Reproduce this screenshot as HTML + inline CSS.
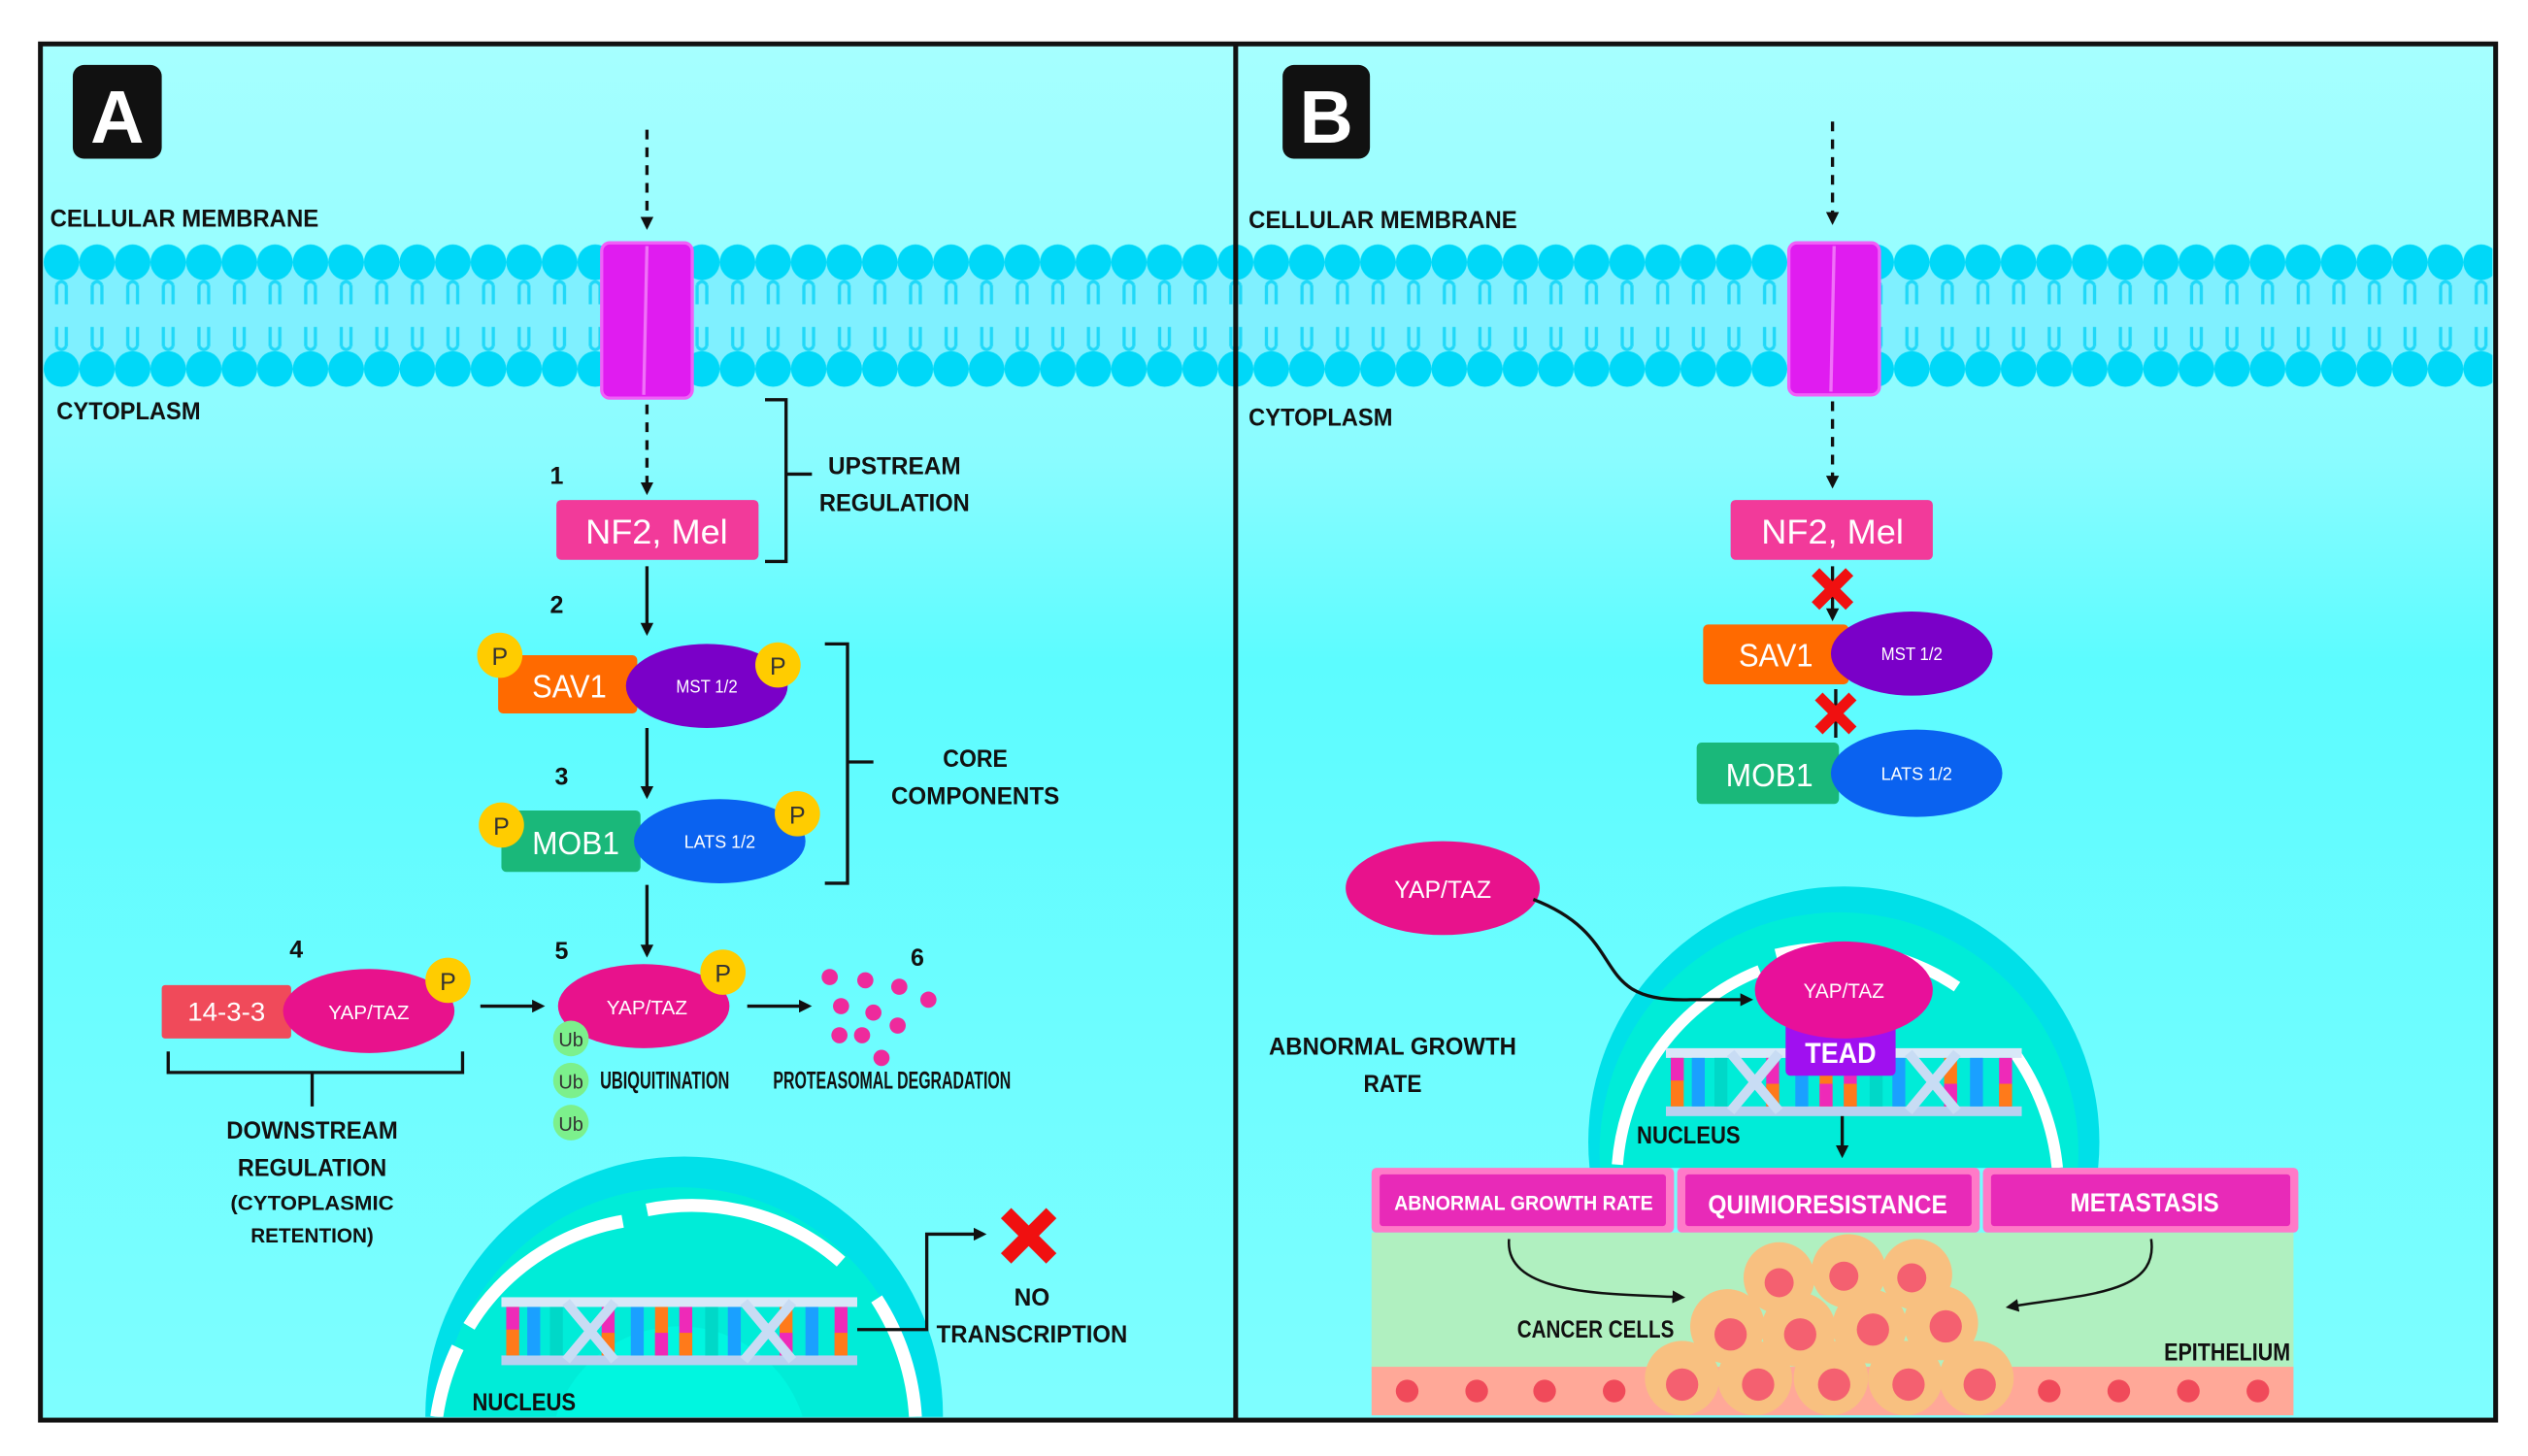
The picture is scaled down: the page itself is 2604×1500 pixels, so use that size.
<!DOCTYPE html>
<html><head><meta charset="utf-8"><style>
html,body{margin:0;padding:0;background:#fff;width:2604px;height:1500px;overflow:hidden;}
svg{display:block;}
text{font-family:"Liberation Sans Narrow","Liberation Sans",sans-serif;}
.lb{font-weight:bold;fill:#111;font-size:15px;}
.w{fill:#fff;font-family:"Liberation Sans",sans-serif;}
</style></head><body>
<svg width="2604" height="1500" viewBox="0 0 1563 900" xmlns="http://www.w3.org/2000/svg">
<defs>
<linearGradient id="bg" x1="0" y1="0" x2="0" y2="1">
<stop offset="0" stop-color="#a6ffff"/><stop offset="0.3" stop-color="#8afcff"/><stop offset="0.45" stop-color="#5cfcff"/><stop offset="1" stop-color="#7ffeff"/>
</linearGradient>
<pattern id="mem" x="27" y="150" width="22" height="92" patternUnits="userSpaceOnUse">
<rect x="0" y="12" width="22" height="66" fill="#7ff0ff"/>
<circle cx="11" cy="12" r="11" fill="#00d8f8"/>
<circle cx="11" cy="78" r="11" fill="#00d8f8"/>
<path d="M8 26 v12 M14 26 v12 M8 26 q3 -4 6 0 M8 52 v12 M14 52 v12 M8 64 q3 4 6 0" stroke="#20d8f8" stroke-width="2" fill="none"/>
</pattern>
<marker id="ah" markerWidth="8" markerHeight="8" refX="6" refY="4" orient="auto" markerUnits="userSpaceOnUse"><path d="M0 0 L8 4 L0 8 z" fill="#111"/></marker>
<g id="dna">
<rect x="0" y="0" width="220" height="6" fill="#d8e8f8"/><rect x="0" y="36" width="220" height="6" fill="#b8d0f0"/>
<rect x="3" y="6" width="8" height="30" fill="#ff7a1a"/><rect x="3" y="6" width="8" height="14" fill="#ee2ab8"/>
<rect x="16" y="6" width="8" height="30" fill="#1aa0ff"/><rect x="30" y="6" width="8" height="30" fill="#00d8c8"/>
<rect x="62" y="6" width="8" height="30" fill="#ee2ab8"/><rect x="62" y="22" width="8" height="14" fill="#ff7a1a"/>
<rect x="80" y="6" width="8" height="30" fill="#1aa0ff"/><rect x="95" y="6" width="8" height="30" fill="#ff7a1a"/><rect x="95" y="22" width="8" height="14" fill="#ee2ab8"/>
<rect x="110" y="6" width="8" height="30" fill="#ee2ab8"/><rect x="110" y="22" width="8" height="14" fill="#ff7a1a"/>
<rect x="126" y="6" width="8" height="30" fill="#00d8c8"/><rect x="140" y="6" width="8" height="30" fill="#1aa0ff"/>
<rect x="172" y="6" width="8" height="30" fill="#ff7a1a"/><rect x="172" y="22" width="8" height="14" fill="#ee2ab8"/>
<rect x="188" y="6" width="8" height="30" fill="#1aa0ff"/><rect x="206" y="6" width="8" height="30" fill="#ee2ab8"/><rect x="206" y="22" width="8" height="14" fill="#ff7a1a"/>
<path d="M40 3 L70 39 M40 39 L70 3 M150 3 L180 39 M150 39 L180 3" stroke="#c8dcf4" stroke-width="6"/>
</g>
<g id="xr"><path d="M-14 -14 L14 14 M14 -14 L-14 14" stroke="#f01010" stroke-width="9"/></g>
<clipPath id="cpA"><rect x="27" y="29" width="736" height="847"/></clipPath>
<clipPath id="cpB"><rect x="766" y="29" width="775" height="693"/></clipPath>
</defs>
<rect x="25" y="27" width="1518" height="851" fill="url(#bg)" stroke="#111" stroke-width="3"/>
<rect x="27" y="150" width="1514" height="92" fill="url(#mem)"/>
<line x1="764" y1="27" x2="764" y2="878" stroke="#111" stroke-width="3"/>

<!-- Panel A -->
<rect x="45" y="40" width="55" height="58" rx="7" fill="#111"/>
<text x="72.5" y="88" text-anchor="middle" font-size="46" font-weight="bold" fill="#fff">A</text>
<text x="31" y="140" class="lb" textLength="166" lengthAdjust="spacingAndGlyphs">CELLULAR MEMBRANE</text>
<text x="35" y="259" class="lb" textLength="89" lengthAdjust="spacingAndGlyphs">CYTOPLASM</text>
<rect x="372" y="150" width="56" height="96" rx="5" fill="#e01cf0" stroke="#f060f8" stroke-width="2"/>
<line x1="400" y1="152" x2="398" y2="244" stroke="#f070f8" stroke-width="2"/>
<line x1="400" y1="80" x2="400" y2="140" stroke="#111" stroke-width="2" stroke-dasharray="6,5" marker-end="url(#ah)"/>
<line x1="400" y1="250" x2="400" y2="304" stroke="#111" stroke-width="2" stroke-dasharray="6,5" marker-end="url(#ah)"/>
<text x="340" y="299" class="lb" font-size="18">1</text>
<rect x="344" y="309" width="125" height="37" rx="3" fill="#f23a9a"/>
<text x="406" y="336" text-anchor="middle" class="w" font-size="21" textLength="88" lengthAdjust="spacingAndGlyphs">NF2, Mel</text>
<path d="M473 247 H486 V347 H473 M486 293 H502" stroke="#111" stroke-width="2" fill="none"/>
<text x="553" y="293" text-anchor="middle" class="lb" textLength="82" lengthAdjust="spacingAndGlyphs">UPSTREAM</text>
<text x="553" y="316" text-anchor="middle" class="lb" textLength="93" lengthAdjust="spacingAndGlyphs">REGULATION</text>
<line x1="400" y1="350" x2="400" y2="391" stroke="#111" stroke-width="2" marker-end="url(#ah)"/>
<text x="340" y="379" class="lb" font-size="18">2</text>
<rect x="308" y="405" width="86" height="36" rx="3" fill="#ff6a00"/>
<text x="352" y="431" text-anchor="middle" class="w" font-size="20" textLength="46" lengthAdjust="spacingAndGlyphs">SAV1</text>
<ellipse cx="437" cy="424" rx="50" ry="26" fill="#7a00c8"/>
<text x="437" y="428" text-anchor="middle" class="w" font-size="11" textLength="38" lengthAdjust="spacingAndGlyphs">MST 1/2</text>
<circle cx="309" cy="405" r="14" fill="#ffcc00"/><text x="309" y="411" text-anchor="middle" font-size="15" fill="#333">P</text>
<circle cx="481" cy="411" r="14" fill="#ffcc00"/><text x="481" y="417" text-anchor="middle" font-size="15" fill="#333">P</text>
<line x1="400" y1="450" x2="400" y2="492" stroke="#111" stroke-width="2" marker-end="url(#ah)"/>
<text x="343" y="485" class="lb" font-size="18">3</text>
<rect x="310" y="501" width="86" height="38" rx="3" fill="#1ab87a"/>
<text x="356" y="528" text-anchor="middle" class="w" font-size="20" textLength="54" lengthAdjust="spacingAndGlyphs">MOB1</text>
<ellipse cx="445" cy="520" rx="53" ry="26" fill="#0a62f0"/>
<text x="445" y="524" text-anchor="middle" class="w" font-size="11" textLength="44" lengthAdjust="spacingAndGlyphs">LATS 1/2</text>
<circle cx="310" cy="510" r="14" fill="#ffcc00"/><text x="310" y="516" text-anchor="middle" font-size="15" fill="#333">P</text>
<circle cx="493" cy="503" r="14" fill="#ffcc00"/><text x="493" y="509" text-anchor="middle" font-size="15" fill="#333">P</text>
<path d="M510 398 H524 V546 H510 M524 471 H540" stroke="#111" stroke-width="2" fill="none"/>
<text x="603" y="474" text-anchor="middle" class="lb" textLength="40" lengthAdjust="spacingAndGlyphs">CORE</text>
<text x="603" y="497" text-anchor="middle" class="lb" textLength="104" lengthAdjust="spacingAndGlyphs">COMPONENTS</text>
<line x1="400" y1="547" x2="400" y2="590" stroke="#111" stroke-width="2" marker-end="url(#ah)"/>
<text x="179" y="592" class="lb" font-size="18">4</text>
<text x="343" y="593" class="lb" font-size="18">5</text>
<text x="563" y="597" class="lb" font-size="18">6</text>
<rect x="100" y="609" width="80" height="33" rx="2" fill="#f04a5a"/>
<text x="140" y="631" text-anchor="middle" class="w" font-size="16" textLength="48" lengthAdjust="spacingAndGlyphs">14-3-3</text>
<ellipse cx="228" cy="625" rx="53" ry="26" fill="#e8128c"/>
<text x="228" y="630" text-anchor="middle" class="w" font-size="12" textLength="50" lengthAdjust="spacingAndGlyphs">YAP/TAZ</text>
<circle cx="277" cy="606" r="14" fill="#ffcc00"/><text x="277" y="612" text-anchor="middle" font-size="15" fill="#333">P</text>
<line x1="297" y1="622" x2="335" y2="622" stroke="#111" stroke-width="2" marker-end="url(#ah)"/>
<ellipse cx="398" cy="622" rx="53" ry="26" fill="#e8128c"/>
<text x="400" y="627" text-anchor="middle" class="w" font-size="12" textLength="50" lengthAdjust="spacingAndGlyphs">YAP/TAZ</text>
<circle cx="447" cy="601" r="14" fill="#ffcc00"/><text x="447" y="607" text-anchor="middle" font-size="15" fill="#333">P</text>
<circle cx="353" cy="642" r="11" fill="#7cf08c"/><text x="353" y="647" text-anchor="middle" font-size="12" fill="#333">Ub</text>
<circle cx="353" cy="668" r="11" fill="#7cf08c"/><text x="353" y="673" text-anchor="middle" font-size="12" fill="#333">Ub</text>
<circle cx="353" cy="694" r="11" fill="#7cf08c"/><text x="353" y="699" text-anchor="middle" font-size="12" fill="#333">Ub</text>
<text x="371" y="673" class="lb" font-size="10" textLength="80" lengthAdjust="spacingAndGlyphs">UBIQUITINATION</text>
<line x1="462" y1="622" x2="500" y2="622" stroke="#111" stroke-width="2" marker-end="url(#ah)"/>
<g fill="#ee2a9c"><circle cx="513" cy="604" r="5"/><circle cx="535" cy="606" r="5"/><circle cx="556" cy="610" r="5"/><circle cx="574" cy="618" r="5"/><circle cx="520" cy="622" r="5"/><circle cx="540" cy="626" r="5"/><circle cx="519" cy="640" r="5"/><circle cx="555" cy="634" r="5"/><circle cx="533" cy="640" r="5"/><circle cx="545" cy="654" r="5"/></g>
<text x="478" y="673" class="lb" font-size="10" textLength="147" lengthAdjust="spacingAndGlyphs">PROTEASOMAL DEGRADATION</text>
<path d="M104 650 V663 H286 V650 M193 663 V684" stroke="#111" stroke-width="2" fill="none"/>
<g class="lb" text-anchor="middle"><text x="193" y="704" textLength="106" lengthAdjust="spacingAndGlyphs">DOWNSTREAM</text><text x="193" y="727" textLength="92" lengthAdjust="spacingAndGlyphs">REGULATION</text><text x="193" y="748" font-size="13" textLength="101" lengthAdjust="spacingAndGlyphs">(CYTOPLASMIC</text><text x="193" y="768" font-size="13" textLength="76" lengthAdjust="spacingAndGlyphs">RETENTION)</text></g>
<g clip-path="url(#cpA)">
<circle cx="423" cy="875" r="160" fill="#00e0e8"/>
<circle cx="420" cy="882" r="148" fill="#00ecd8"/>
<circle cx="420" cy="900" r="80" fill="#00f6e0"/>
<path d="M290 820 A140 140 0 0 1 385 755" stroke="#fff" stroke-width="8" fill="none"/>
<path d="M400 748 A140 140 0 0 1 520 780" stroke="#fff" stroke-width="8" fill="none"/>
<path d="M542 803 A150 150 0 0 1 566 876" stroke="#fff" stroke-width="8" fill="none"/>
<path d="M270 876 A150 150 0 0 1 283 833" stroke="#fff" stroke-width="8" fill="none"/>
<use href="#dna" x="310" y="802"/>
</g>
<path d="M530 822 H573 V763 H608" stroke="#111" stroke-width="2" fill="none" marker-end="url(#ah)"/>
<use href="#xr" x="636" y="764"/>
<text x="638" y="807" text-anchor="middle" class="lb" textLength="22" lengthAdjust="spacingAndGlyphs">NO</text>
<text x="638" y="830" text-anchor="middle" class="lb" textLength="118" lengthAdjust="spacingAndGlyphs">TRANSCRIPTION</text>
<text x="292" y="872" class="lb" font-size="14" textLength="64" lengthAdjust="spacingAndGlyphs">NUCLEUS</text>

<!-- Panel B -->
<rect x="793" y="40" width="54" height="58" rx="7" fill="#111"/>
<text x="820" y="88" text-anchor="middle" font-size="46" font-weight="bold" fill="#fff">B</text>
<text x="772" y="141" class="lb" textLength="166" lengthAdjust="spacingAndGlyphs">CELLULAR MEMBRANE</text>
<text x="772" y="263" class="lb" textLength="89" lengthAdjust="spacingAndGlyphs">CYTOPLASM</text>
<rect x="1106" y="150" width="56" height="94" rx="5" fill="#e01cf0" stroke="#f060f8" stroke-width="2"/>
<line x1="1134" y1="152" x2="1132" y2="242" stroke="#f070f8" stroke-width="2"/>
<line x1="1133" y1="75" x2="1133" y2="137" stroke="#111" stroke-width="2" stroke-dasharray="6,5" marker-end="url(#ah)"/>
<line x1="1133" y1="248" x2="1133" y2="300" stroke="#111" stroke-width="2" stroke-dasharray="6,5" marker-end="url(#ah)"/>
<rect x="1070" y="309" width="125" height="37" rx="3" fill="#f23a9a"/>
<text x="1133" y="336" text-anchor="middle" class="w" font-size="21" textLength="88" lengthAdjust="spacingAndGlyphs">NF2, Mel</text>
<line x1="1133" y1="350" x2="1133" y2="382" stroke="#111" stroke-width="2" marker-end="url(#ah)"/>
<g transform="translate(1133 364) scale(0.75)"><use href="#xr"/></g>
<rect x="1053" y="386" width="90" height="37" rx="3" fill="#ff6a00"/>
<text x="1098" y="412" text-anchor="middle" class="w" font-size="20" textLength="46" lengthAdjust="spacingAndGlyphs">SAV1</text>
<ellipse cx="1182" cy="404" rx="50" ry="26" fill="#7a00c8"/>
<text x="1182" y="408" text-anchor="middle" class="w" font-size="11" textLength="38" lengthAdjust="spacingAndGlyphs">MST 1/2</text>
<line x1="1135" y1="426" x2="1135" y2="456" stroke="#111" stroke-width="2"/>
<g transform="translate(1135 441) scale(0.75)"><use href="#xr"/></g>
<rect x="1049" y="459" width="88" height="38" rx="3" fill="#1ab87a"/>
<text x="1094" y="486" text-anchor="middle" class="w" font-size="20" textLength="54" lengthAdjust="spacingAndGlyphs">MOB1</text>
<ellipse cx="1185" cy="478" rx="53" ry="27" fill="#0a62f0"/>
<text x="1185" y="482" text-anchor="middle" class="w" font-size="11" textLength="44" lengthAdjust="spacingAndGlyphs">LATS 1/2</text>
<g clip-path="url(#cpB)">
<circle cx="1140" cy="706" r="158" fill="#00e0e8"/>
<circle cx="1137" cy="712" r="148" fill="#00ecd8"/>
<path d="M1000 720 A140 140 0 0 1 1088 600" stroke="#fff" stroke-width="7" fill="none"/>
<path d="M1098 590 A140 140 0 0 1 1210 610" stroke="#fff" stroke-width="7" fill="none"/>
<path d="M1245 650 A150 150 0 0 1 1272 722" stroke="#fff" stroke-width="7" fill="none"/>
<use href="#dna" x="1030" y="648"/>
</g>
<ellipse cx="892" cy="549" rx="60" ry="29" fill="#e8128c"/>
<text x="892" y="555" text-anchor="middle" class="w" font-size="15" textLength="60" lengthAdjust="spacingAndGlyphs">YAP/TAZ</text>
<path d="M948 556 C1010 580 980 620 1045 618 L1082 618" stroke="#111" stroke-width="2" fill="none" marker-end="url(#ah)"/>
<rect x="1104" y="632" width="68" height="33" rx="3" fill="#a010f0"/>
<text x="1138" y="657" text-anchor="middle" class="w" font-size="18" font-weight="bold" textLength="44" lengthAdjust="spacingAndGlyphs">TEAD</text>
<ellipse cx="1140" cy="612" rx="55" ry="30" fill="#e8109a"/>
<text x="1140" y="617" text-anchor="middle" class="w" font-size="13" textLength="50" lengthAdjust="spacingAndGlyphs">YAP/TAZ</text>
<text x="1012" y="707" class="lb" font-size="14" textLength="64" lengthAdjust="spacingAndGlyphs">NUCLEUS</text>
<line x1="1139" y1="690" x2="1139" y2="714" stroke="#111" stroke-width="2" marker-end="url(#ah)"/>
<text x="861" y="652" text-anchor="middle" class="lb" textLength="153" lengthAdjust="spacingAndGlyphs">ABNORMAL GROWTH</text>
<text x="861" y="675" text-anchor="middle" class="lb" textLength="36" lengthAdjust="spacingAndGlyphs">RATE</text>
<rect x="848" y="762" width="570" height="84" fill="#b0f0c0"/>
<rect x="848" y="845" width="570" height="30" fill="#ffa898"/>
<g fill="#f04a5a"><circle cx="870" cy="860" r="7"/><circle cx="913" cy="860" r="7"/><circle cx="955" cy="860" r="7"/><circle cx="998" cy="860" r="7"/><circle cx="1267" cy="860" r="7"/><circle cx="1310" cy="860" r="7"/><circle cx="1353" cy="860" r="7"/><circle cx="1396" cy="860" r="7"/></g>
<g clip-path="url(#cpC)">
<g fill="#f8c080">
<circle cx="1100" cy="790" r="22"/><circle cx="1143" cy="786" r="23"/><circle cx="1185" cy="788" r="22"/>
<circle cx="1068" cy="820" r="23"/><circle cx="1112" cy="822" r="23"/><circle cx="1156" cy="820" r="23"/><circle cx="1200" cy="818" r="23"/>
<circle cx="1040" cy="852" r="23"/><circle cx="1085" cy="852" r="23"/><circle cx="1132" cy="852" r="23"/><circle cx="1178" cy="852" r="23"/><circle cx="1222" cy="852" r="23"/>
</g>
</g>
<clipPath id="cpC"><rect x="848" y="762" width="570" height="113"/></clipPath>
<g fill="#f46070">
<circle cx="1100" cy="793" r="9"/><circle cx="1140" cy="789" r="9"/><circle cx="1182" cy="790" r="9"/>
<circle cx="1070" cy="825" r="10"/><circle cx="1113" cy="825" r="10"/><circle cx="1158" cy="822" r="10"/><circle cx="1203" cy="820" r="10"/>
<circle cx="1040" cy="856" r="10"/><circle cx="1087" cy="856" r="10"/><circle cx="1134" cy="856" r="10"/><circle cx="1180" cy="856" r="10"/><circle cx="1224" cy="856" r="10"/>
</g>
<rect x="848" y="722" width="187" height="40" rx="3" fill="#ff7ac8"/><rect x="853" y="726" width="177" height="32" rx="2" fill="#e82ab8"/>
<rect x="1037" y="722" width="187" height="40" rx="3" fill="#ff7ac8"/><rect x="1042" y="726" width="177" height="32" rx="2" fill="#e82ab8"/>
<rect x="1226" y="722" width="195" height="40" rx="3" fill="#ff7ac8"/><rect x="1231" y="726" width="185" height="32" rx="2" fill="#e82ab8"/>
<text x="942" y="748" text-anchor="middle" class="w" font-size="13" font-weight="bold" textLength="160" lengthAdjust="spacingAndGlyphs">ABNORMAL GROWTH RATE</text>
<text x="1130" y="750" text-anchor="middle" class="w" font-size="16" font-weight="bold" textLength="148" lengthAdjust="spacingAndGlyphs">QUIMIORESISTANCE</text>
<text x="1326" y="749" text-anchor="middle" class="w" font-size="16" font-weight="bold" textLength="92" lengthAdjust="spacingAndGlyphs">METASTASIS</text>
<path d="M933 766 C930 800 990 800 1040 802" stroke="#111" stroke-width="1.5" fill="none" marker-end="url(#ah)"/>
<path d="M1330 766 C1335 800 1290 800 1242 808" stroke="#111" stroke-width="1.5" fill="none" marker-end="url(#ah)"/>
<text x="938" y="827" class="lb" font-size="14" textLength="97" lengthAdjust="spacingAndGlyphs">CANCER CELLS</text>
<text x="1338" y="841" class="lb" font-size="14" textLength="78" lengthAdjust="spacingAndGlyphs">EPITHELIUM</text>
</svg>
</body></html>
